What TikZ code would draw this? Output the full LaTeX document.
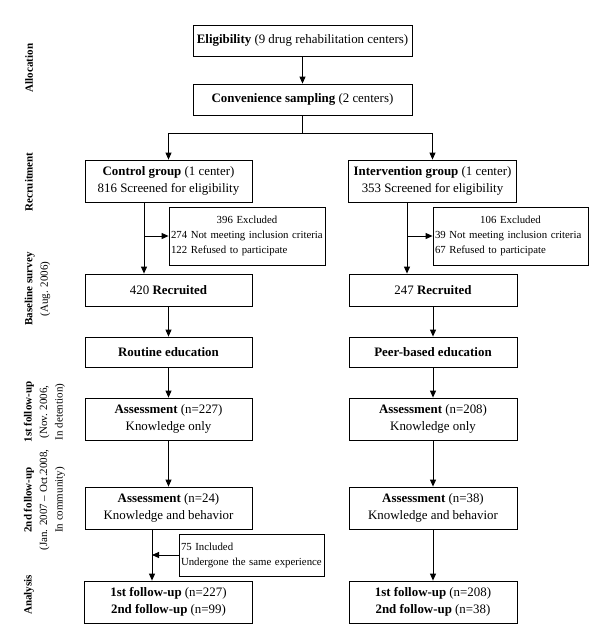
\documentclass[tikz,border=0pt]{standalone}
\usepackage{fontspec}
\setmainfont{Liberation Serif}
\usetikzlibrary{arrows.meta}
\begin{document}
\begin{tikzpicture}[x=1pt,y=-1pt,
  box/.style={draw, line width=0.8pt, inner sep=0pt, align=center,
    font=\fontsize{12.9}{17}\selectfont},
  sbox/.style={draw, line width=0.8pt, inner ysep=0pt, inner xsep=2pt, align=left,
    font=\fontsize{10.8}{15}\selectfont},
  lab/.style={rotate=90, align=center, inner sep=0pt, font=\fontsize{11}{15.5}\selectfont},
  arr/.style={-{Triangle[length=7pt,width=6pt]}, line width=0.9pt},
  ln/.style={line width=0.9pt}
]
\useasboundingbox (0,0) rectangle (600,638);

% side labels
\node[lab] (lalloc) at (29,68) {\textbf{Allocation}};
\node[lab] (lrecr) at (29,182) {\textbf{Recruitment}};
\node[lab] (lbase) at (37.5,289) {\textbf{Baseline survey}\\(Aug. 2006)};
\node[lab] (lfu1) at (44.5,412) {\textbf{1st follow-up}\\(Nov. 2006,\\In detention)};
\node[lab] (lfu2) at (44.5,500) {\textbf{2nd follow-up}\\(Jan. 2007 \textendash{} Oct.2008,\\In community)};
\node[lab] (lana) at (29,595) {\textbf{Analysis}};

% boxes
\node[box, minimum width=219pt, minimum height=31pt] (elig) at (302.5,40.5)
  {\textbf{Eligibility} (9 drug rehabilitation centers)};
\node[box, minimum width=219pt, minimum height=31pt] (conv) at (302.5,99.5)
  {\textbf{Convenience sampling} (2 centers)};
\node[box, minimum width=167pt, minimum height=42pt] (ctrl) at (168.5,181)
  {\textbf{Control group} (1 center)\\816 Screened for eligibility};
\node[box, minimum width=168pt, minimum height=42pt] (intv) at (432.5,181)
  {\textbf{Intervention group} (1 center)\\353 Screened for eligibility};
\node[sbox, text width=152pt, minimum height=58pt] (excl1) at (247,236)
  {\makebox[\linewidth]{396 Excluded}\\\mbox{274 Not meeting inclusion criteria}\\\mbox{122 Refused to participate}};
\node[sbox, text width=151pt, minimum height=58pt] (excl2) at (510.5,236)
  {\makebox[\linewidth]{106 Excluded}\\\mbox{39 Not meeting inclusion criteria}\\\mbox{67 Refused to participate}};
\node[box, minimum width=167pt, minimum height=32pt] (rec1) at (168.5,290)
  {420 \textbf{Recruited}};
\node[box, minimum width=168pt, minimum height=32pt] (rec2) at (433,290)
  {247 \textbf{Recruited}};
\node[box, minimum width=167pt, minimum height=30pt] (rout) at (168.5,352)
  {\textbf{Routine education}};
\node[box, minimum width=168pt, minimum height=30pt] (peer) at (433,352)
  {\textbf{Peer-based education}};
\node[box, minimum width=167pt, minimum height=42pt] (as1a) at (168.5,419)
  {\textbf{Assessment} (n=227)\\Knowledge only};
\node[box, minimum width=168pt, minimum height=42pt] (as1b) at (433,419)
  {\textbf{Assessment} (n=208)\\Knowledge only};
\node[box, minimum width=167pt, minimum height=42pt] (as2a) at (168.5,508)
  {\textbf{Assessment} (n=24)\\Knowledge and behavior};
\node[box, minimum width=168pt, minimum height=42pt] (as2b) at (433,508)
  {\textbf{Assessment} (n=38)\\Knowledge and behavior};
\node[sbox, text width=141pt, minimum height=42pt] (incl) at (251.5,555)
  {\mbox{75 Included}\\\mbox{Undergone the same experience}};
\node[box, minimum width=168pt, minimum height=42pt] (an1) at (168.5,602)
  {\textbf{1st follow-up} (n=227)\\\textbf{2nd follow-up} (n=99)};
\node[box, minimum width=168pt, minimum height=42pt] (an2) at (433,602)
  {\textbf{1st follow-up} (n=208)\\\textbf{2nd follow-up} (n=38)};

% connectors
\draw[arr] (elig) -- (conv);
\coordinate (split) at (302.5,133);
\draw[ln] (conv.south) -- (split);
\draw[arr] (split) -| (ctrl.north);
\draw[arr] (split) -| (intv.north);

\coordinate (c1) at ([xshift=-24.5pt]ctrl.south);
\coordinate (c1e) at ([xshift=-24.5pt]rec1.north);
\draw[arr] (c1) -- (c1e);
\draw[arr] (c1 |- excl1.west) -- (excl1.west);

\coordinate (c2) at ([xshift=-25.5pt]intv.south);
\coordinate (c2e) at ([xshift=-26pt]rec2.north);
\draw[arr] (c2) -- (c2 |- c2e);
\draw[arr] (c2 |- excl2.west) -- (excl2.west);

\draw[arr] (rec1) -- (rout);
\draw[arr] (rec2) -- (peer);
\draw[arr] (rout) -- (as1a);
\draw[arr] (peer) -- (as1b);
\draw[arr] (as1a) -- (as2a);
\draw[arr] (as1b) -- (as2b);

\coordinate (c3) at ([xshift=-16.5pt]as2a.south);
\coordinate (c3e) at ([xshift=-16.5pt]an1.north);
\draw[arr] (c3) -- (c3e);
\draw[arr] (incl.west) -- (c3 |- incl.west);
\draw[arr] (as2b) -- (an2);
\end{tikzpicture}
\end{document}
